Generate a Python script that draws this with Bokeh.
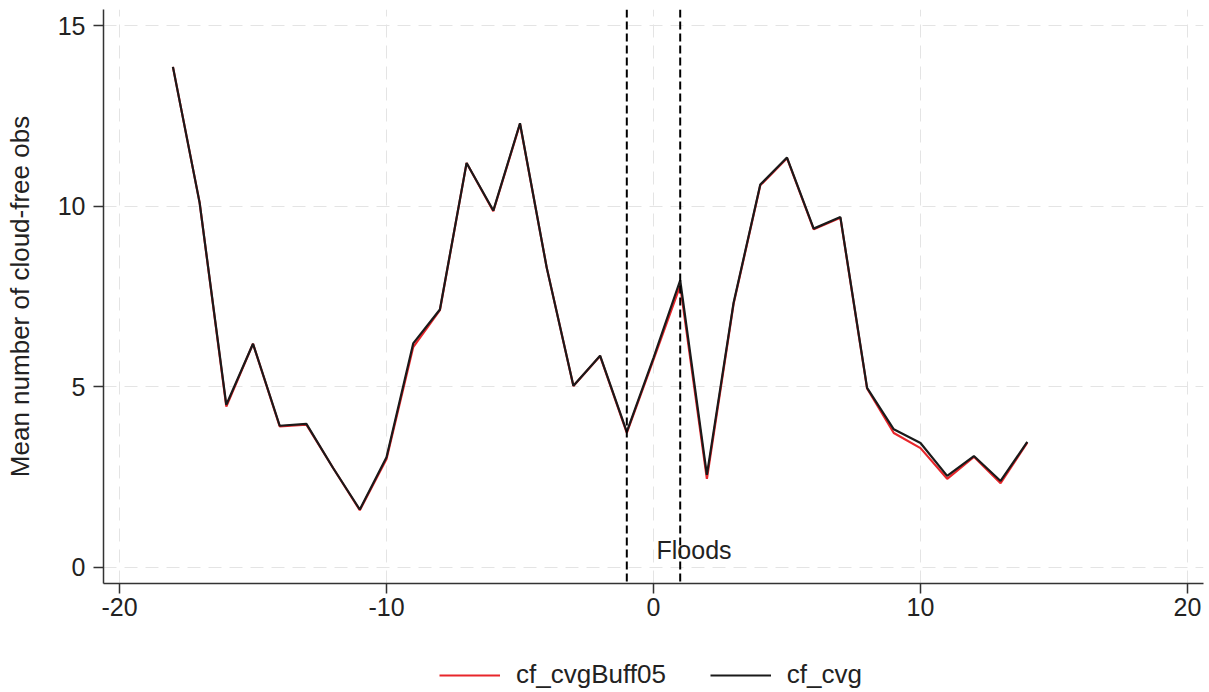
from bokeh.plotting import figure
from bokeh.layouts import column
from bokeh.models import (Span, Label, Legend, LegendItem, FixedTicker, Range1d,
                          CustomJSTickFormatter)
from bokeh.embed import file_html
from bokeh.resources import INLINE

# data
months = [-18, -17, -16, -15, -14, -13, -12, -11, -10, -9, -8, -7, -6, -5, -4, -3, -2,
          -1, 0, 1, 2, 3, 4, 5, 6, 7, 8, 9, 10, 11, 12, 13, 14]
cf_cvg = [13.86, 10.1, 4.5, 6.19, 3.92, 3.97, 2.75, 1.6, 3.05, 6.2, 7.14, 11.2, 9.88,
          12.3, 8.3, 5.03, 5.86, 3.75, 5.8, 7.95, 2.56, 7.33, 10.6, 11.35, 9.38, 9.7,
          4.97, 3.82, 3.44, 2.53, 3.08, 2.39, 3.47]
cf_cvgBuff05 = [13.86, 10.1, 4.45, 6.19, 3.9, 3.95, 2.75, 1.58, 3.0, 6.1, 7.12, 11.2, 9.86,
                12.28, 8.3, 5.02, 5.85, 3.72, 5.75, 7.8, 2.45, 7.3, 10.58, 11.33, 9.36, 9.68,
                4.95, 3.72, 3.3, 2.45, 3.06, 2.33, 3.45]
event_lines = [-1, 1]
event_label = "Floods"
x_ticks = [-20, -10, 0, 10, 20]
y_ticks = [0, 5, 10, 15]
series_names = ["cf_cvgBuff05", "cf_cvg"]
series_colors = ["#e8262b", "#1a1a1a"]

FONT = "Liberation Sans"
FS = "25px"

p = figure(width=1209, height=640, output_backend="svg", toolbar_location=None,
           x_range=Range1d(-20.6, 20.6), y_range=Range1d(-0.45, 15.45),
           min_border_left=103, min_border_right=6, min_border_top=9,
           min_border_bottom=57)
p.outline_line_color = None
p.background_fill_color = "white"
p.border_fill_color = "white"

fmt = CustomJSTickFormatter(code="return tick.toFixed(0);")
for ax in (p.xaxis[0], p.yaxis[0]):
    ax.formatter = fmt
    ax.major_label_text_font = FONT
    ax.major_label_text_font_size = FS
    ax.major_label_text_color = "#222222"
    ax.axis_line_color = "#333333"
    ax.axis_line_width = 1.5
    ax.major_tick_line_color = "#333333"
    ax.major_tick_line_width = 1.5
    ax.major_tick_out = 10
    ax.major_tick_in = 0
    ax.minor_tick_line_color = None
    ax.axis_label_text_font = FONT
    ax.axis_label_text_font_size = "26px"
    ax.axis_label_text_font_style = "normal"
    ax.axis_label_text_color = "#222222"

p.xaxis.ticker = FixedTicker(ticks=x_ticks)
p.yaxis.ticker = FixedTicker(ticks=y_ticks)
p.xaxis.major_label_standoff = 4
p.yaxis.major_label_standoff = 8
p.yaxis.axis_label = "Mean number of cloud-free obs"
p.yaxis.axis_label_standoff = 20

for g in (p.xgrid[0], p.ygrid[0]):
    g.grid_line_color = "#e4e4e4"
    g.grid_line_dash = "13 8"
    g.grid_line_width = 1
p.xgrid.ticker = FixedTicker(ticks=x_ticks)
p.ygrid.ticker = FixedTicker(ticks=y_ticks)

for xv in event_lines:
    p.add_layout(Span(location=xv, dimension="height", line_color="black",
                      line_width=2, line_dash="8 4"))

p.add_layout(Label(x=0, y=0.47, text=event_label, x_offset=3,
                   text_baseline="middle", text_align="left",
                   text_font=FONT, text_font_size=FS, text_color="#222222"))

p.line(months, cf_cvgBuff05, line_color=series_colors[0], line_width=2.2)
p.line(months, cf_cvg, line_color=series_colors[1], line_width=2.2)

# legend strip below the chart
lg = figure(width=1209, height=52, output_backend="svg", toolbar_location=None,
            x_range=Range1d(1000, 1001), y_range=Range1d(1000, 1001),
            x_axis_location=None, y_axis_location=None,
            min_border=0)
lg.outline_line_color = None
lg.xgrid.visible = False
lg.ygrid.visible = False
leg_r = [lg.line(months, cf_cvgBuff05, line_color=series_colors[0], line_width=2.2),
         lg.line(months, cf_cvg, line_color=series_colors[1], line_width=2.2)]
legend = Legend(items=[LegendItem(label=n, renderers=[r]) for n, r in zip(series_names, leg_r)],
                orientation="horizontal", location=(336, 2),
                border_line_color=None, background_fill_alpha=0,
                label_text_font=FONT, label_text_font_size="26px",
                label_text_color="#222222",
                glyph_width=61, glyph_height=20, label_standoff=16,
                spacing=44, padding=2, margin=0)
lg.add_layout(legend, "center")

layout = column(p, lg, spacing=0)
open("out.html", "w").write(file_html(layout, INLINE))
